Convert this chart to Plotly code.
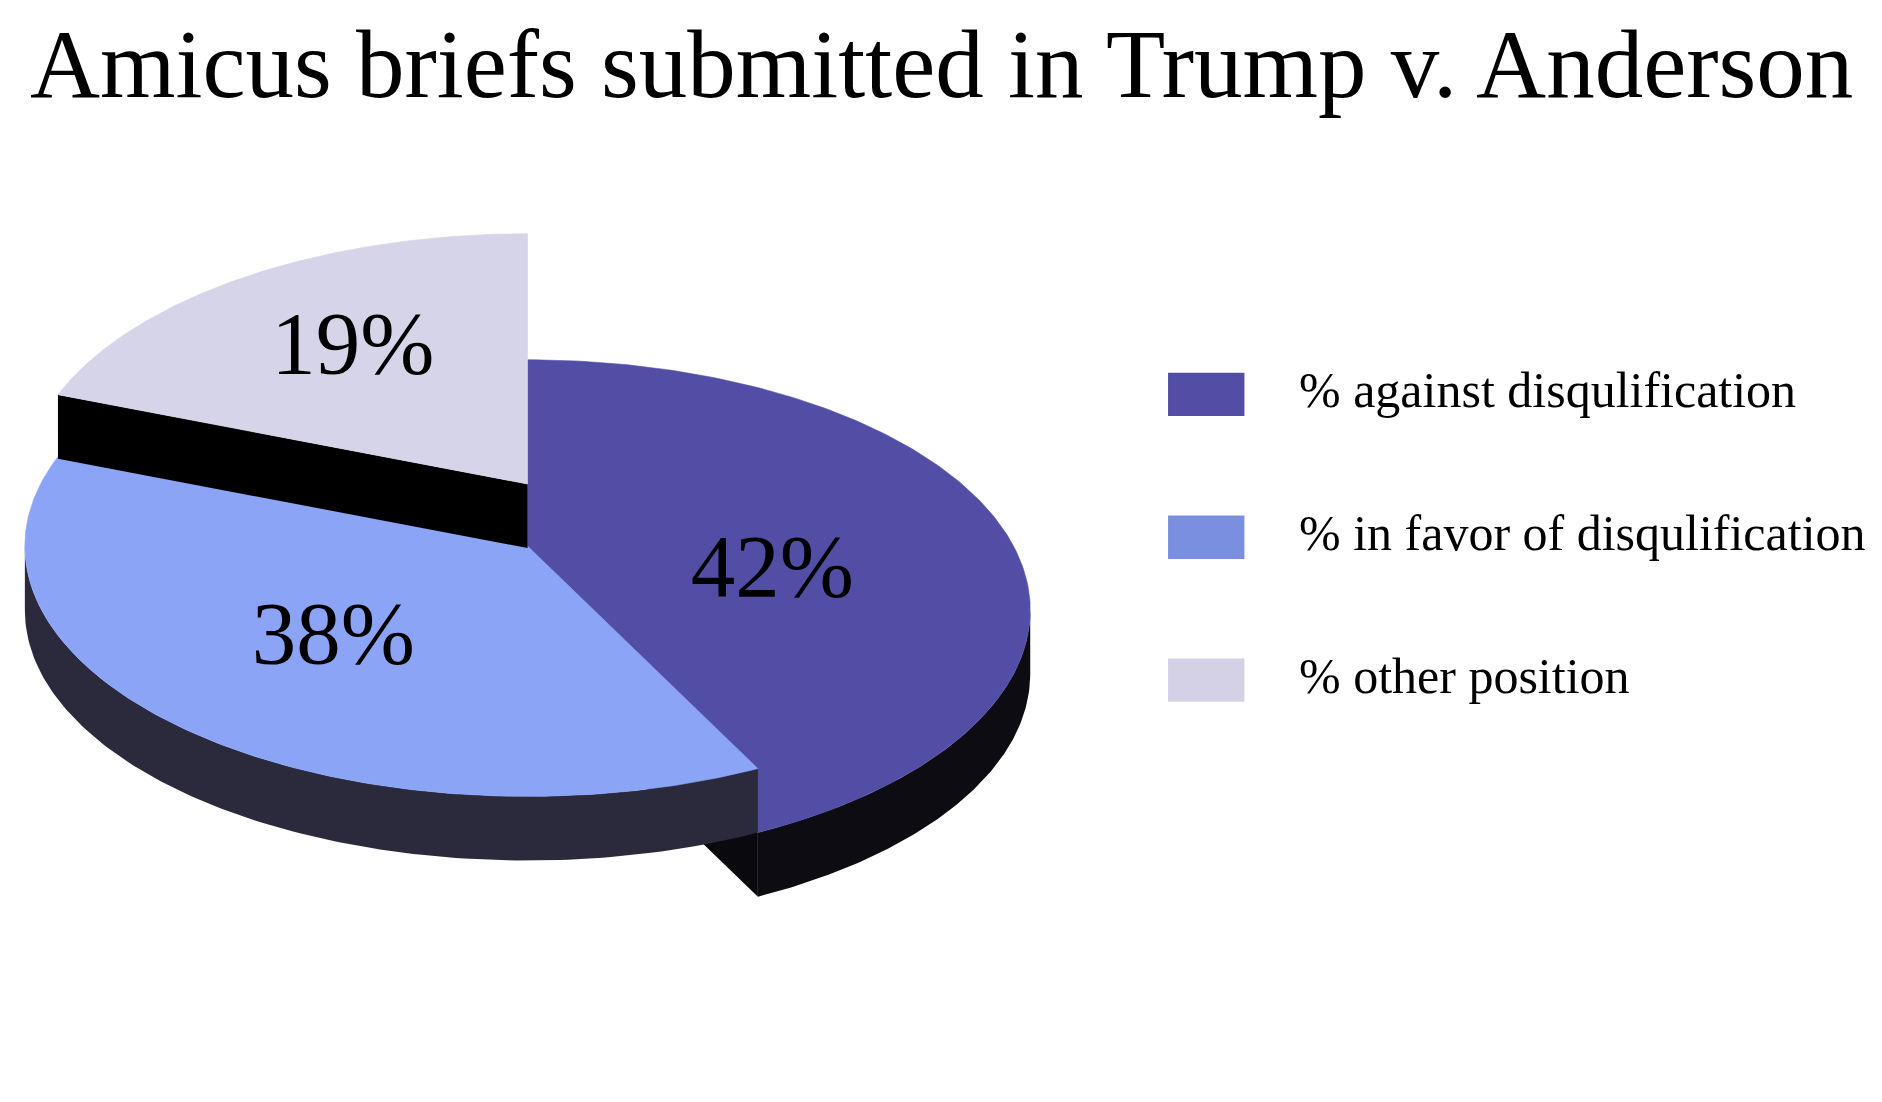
import numpy as np
import plotly.graph_objects as go

# ---- data ----
categories = ["% against disqulification", "% in favor of disqulification", "% other position"]
values = [42, 38, 19]
labels = ["42%", "38%", "19%"]
title_text = "Amicus briefs submitted in Trump v. Anderson"

# ---- style ----
top_colors = ["#524ea6", "#8ca4f6", "#d5d4e9"]
legend_colors = ["#524ea6", "#7b8fe0", "#d4d1e6"]
side_colors = ["#0d0c13", "#2b2a3d", "#000000"]
radial_colors = ["#0a0a0e", "#1a1a26", "#000000"]
lift = [65, 0, -63]          # vertical displacement of each slice (px)
label_nudge = [(-24, -4), (-10, -8), (-18, -20)]
CX, CY, RX, RY, DEPTH = 524, 546, 507, 254, 65
FONT = "Liberation Serif"

total = sum(values)
bounds = np.concatenate([[0], np.cumsum(values)]) / total * 2 * np.pi


def ell(theta, off):
    return CX + RX * np.sin(theta), CY + off - RY * np.cos(theta)


fig = go.Figure()

# draw slices from lowest to highest
order = sorted(range(len(values)), key=lambda i: -lift[i])
for i in order:
    a, b = bounds[i], bounds[i + 1]
    off = lift[i]
    # outer side face (front-facing part: angles between pi/2 and 3pi/2)
    lo, hi = max(a, np.pi / 2), min(b, 3 * np.pi / 2)
    if hi > lo:
        t = np.linspace(lo, hi, 120)
        xt, yt = ell(t, off)
        xb, yb = ell(t[::-1], off + DEPTH)
        fig.add_trace(go.Scatter(x=np.concatenate([xt, xb]), y=np.concatenate([yt, yb]),
                                 fill="toself", mode="lines", line=dict(width=0),
                                 fillcolor=side_colors[i], hoverinfo="skip", showlegend=False))
    # radial faces facing the viewer
    for ang, sgn in ((a, -1), (b, 1)):
        ny = sgn * np.sin(ang)
        if ny > 0.05:
            ex, ey = ell(np.array([ang]), off)
            px = [CX, ex[0], ex[0], CX, CX]
            py = [CY + off, ey[0], ey[0] + DEPTH, CY + off + DEPTH, CY + off]
            fig.add_trace(go.Scatter(x=px, y=py, fill="toself", mode="lines", line=dict(width=0),
                                     fillcolor=radial_colors[i], hoverinfo="skip", showlegend=False))
    # top face
    t = np.linspace(a, b, 200)
    xt, yt = ell(t, off)
    fig.add_trace(go.Scatter(x=np.concatenate([[CX], xt, [CX]]),
                             y=np.concatenate([[CY + off], yt, [CY + off]]),
                             fill="toself", mode="lines", line=dict(width=0.6, color=top_colors[i]),
                             fillcolor=top_colors[i], hoverinfo="skip", showlegend=False))

# percentage labels at the slice bisectors
for i in range(len(values)):
    mid = (bounds[i] + bounds[i + 1]) / 2
    r = 0.55
    lx = CX + r * RX * np.sin(mid) + label_nudge[i][0]
    ly = CY + lift[i] - r * RY * np.cos(mid) + label_nudge[i][1]
    fig.add_trace(go.Scatter(x=[lx], y=[ly], mode="text", text=[labels[i]],
                             textfont=dict(family=FONT, size=89, color="black"),
                             hoverinfo="skip", showlegend=False))

# manual legend
leg_y = [392, 537, 682]
for i, name in enumerate(categories):
    fig.add_shape(type="rect", x0=1170, x1=1247, y0=leg_y[i] - 22, y1=leg_y[i] + 22,
                  fillcolor=legend_colors[i], line=dict(width=0), layer="below")
    fig.add_annotation(x=1300, y=leg_y[i] - 4, text=name, showarrow=False, xanchor="left",
                       yanchor="middle", font=dict(family=FONT, size=50, color="black"))

# title as an annotation
fig.add_annotation(xref="paper", yref="paper", x=0.5, y=1, xanchor="center", yanchor="top",
                   yshift=-1, text=title_text, showarrow=False,
                   font=dict(family=FONT, size=97, color="black"))

fig.update_layout(
    xaxis=dict(range=[0, 1882], visible=False, fixedrange=True),
    yaxis=dict(range=[1102, 0], visible=False, fixedrange=True),
    margin=dict(l=0, r=0, t=0, b=0),
    paper_bgcolor="white", plot_bgcolor="white",
    showlegend=False,
)

fig.write_html("out.html")
